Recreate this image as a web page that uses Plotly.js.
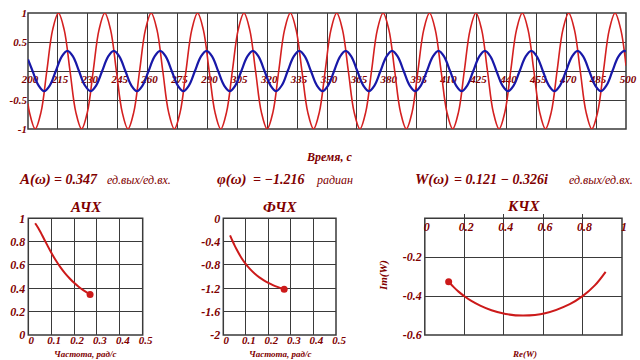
<!DOCTYPE html>
<html><head><meta charset="utf-8">
<script src="https://cdn.plot.ly/plotly-3.0.1.min.js"></script>
<style>html,body{margin:0;padding:0;background:#fff}</style>
</head><body><div id="c" style="width:640px;height:360px"></div>
<script>
// ---- Time response: input (red) and output (blue) ----
const redT = [200,200.71,203.62,206.53,209.44,212.35,215.26,218.17,221.08,223.98,226.89,229.80,
232.71,235.62,238.53,241.44,244.35,247.26,250.16,253.07,255.98,258.89,261.80,264.71,267.62,270.53,
273.43,276.34,279.25,282.16,285.07,287.98,290.89,293.80,296.71,299.61,302.52,305.43,308.34,311.25,
314.16,317.07,319.98,322.89,325.79,328.70,331.61,334.52,337.43,340.34,343.25,346.16,349.07,351.97,
354.88,357.79,360.70,363.61,366.52,369.43,372.34,375.25,378.15,381.06,383.97,386.88,389.79,392.70,
395.61,398.52,401.43,404.33,407.24,410.15,413.06,415.97,418.88,421.79,424.70,427.61,430.51,433.42,
436.33,439.24,442.15,445.06,447.97,450.88,453.78,456.69,459.60,462.51,465.42,468.33,471.24,474.15,
477.06,479.97,482.87,485.78,488.69,491.60,494.51,497.42,500];
const redY = [-0.56,-0.71,-1,-0.71,
0,0.71,1,0.71,0,-0.71,-1,-0.71,
0,0.71,1,0.71,0,-0.71,-1,-0.71,
0,0.71,1,0.71,0,-0.71,-1,-0.71,
0,0.71,1,0.71,0,-0.71,-1,-0.71,
0,0.71,1,0.71,0,-0.71,-1,-0.71,
0,0.71,1,0.71,0,-0.71,-1,-0.71,
0,0.71,1,0.71,0,-0.71,-1,-0.71,
0,0.71,1,0.71,0,-0.71,-1,-0.71,
0,0.71,1,0.71,0,-0.71,-1,-0.71,
0,0.71,1,0.71,0,-0.71,-1,-0.71,
0,0.71,1,0.71,0,-0.71,-1,-0.71,
0,0.71,1,0.71,0,-0.71,-1,-0.71,
0,0.71,1,0.71,0.09];
const blueT = [200,202.30,205.21,208.12,211.03,213.94,216.85,219.76,222.67,225.58,228.48,231.39,
234.30,237.21,240.12,243.03,245.94,248.85,251.76,254.66,257.57,260.48,263.39,266.30,269.21,272.12,
275.03,277.93,280.84,283.75,286.66,289.57,292.48,295.39,298.30,301.21,304.11,307.02,309.93,312.84,
315.75,318.66,321.57,324.48,327.39,330.29,333.20,336.11,339.02,341.93,344.84,347.75,350.66,353.57,
356.47,359.38,362.29,365.20,368.11,371.02,373.93,376.84,379.75,382.65,385.56,388.47,391.38,394.29,
397.20,400.11,403.02,405.93,408.83,411.74,414.65,417.56,420.47,423.38,426.29,429.20,432.11,435.01,
437.92,440.83,443.74,446.65,449.56,452.47,455.38,458.28,461.19,464.10,467.01,469.92,472.83,475.74,
478.65,481.56,484.47,487.37,490.28,493.19,496.10,499.01,500];
const blueY = [0.20,0,-0.245,-0.347,-0.245,
0,0.245,0.347,0.245,0,-0.245,-0.347,-0.245,
0,0.245,0.347,0.245,0,-0.245,-0.347,-0.245,
0,0.245,0.347,0.245,0,-0.245,-0.347,-0.245,
0,0.245,0.347,0.245,0,-0.245,-0.347,-0.245,
0,0.245,0.347,0.245,0,-0.245,-0.347,-0.245,
0,0.245,0.347,0.245,0,-0.245,-0.347,-0.245,
0,0.245,0.347,0.245,0,-0.245,-0.347,-0.245,
0,0.245,0.347,0.245,0,-0.245,-0.347,-0.245,
0,0.245,0.347,0.245,0,-0.245,-0.347,-0.245,
0,0.245,0.347,0.245,0,-0.245,-0.347,-0.245,
0,0.245,0.347,0.245,0,-0.245,-0.347,-0.245,
0,0.245,0.347,0.245,0,-0.245,-0.347,-0.245,
0,0.245,0.347,0.335];
const timeTicks = [200,215,230,245,260,275,290,305,320,335,350,365,380,395,410,425,440,455,470,485,500];
const timeTickText = ['200','215','230','245','260','275','290','305','320','335','350','365','380','395','410','425','440','455','470','485','500'];
const ampTicks = [-1,-0.5,0,0.5,1];
const ampTickText = ['-1','-0.5','','0.5','1'];

// ---- Frequency characteristics ----
const omega  = [0.03,0.04,0.05,0.06,0.08,0.10,0.12,0.14,0.16,0.18,0.20,0.22,0.24,0.27];
const ampA   = [0.958,0.928,0.894,0.857,0.781,0.707,0.640,0.581,0.530,0.486,0.447,0.414,0.385,0.347];
const phaseF = [-0.291,-0.381,-0.464,-0.540,-0.675,-0.785,-0.876,-0.951,-1.012,-1.064,-1.107,-1.144,-1.176,-1.216];
const reW    = [0.917,0.862,0.800,0.735,0.610,0.500,0.410,0.338,0.281,0.236,0.200,0.171,0.148,0.121];
const imW    = [-0.275,-0.345,-0.400,-0.441,-0.488,-0.500,-0.492,-0.473,-0.449,-0.425,-0.400,-0.377,-0.355,-0.326];
const omegaNow = [0.27], ampNow = [0.347], phaseNow = [-1.216], reNow = [0.121], imNow = [-0.326];

const freqTicks = [0,0.1,0.2,0.3,0.4,0.5];
const freqTickText = ['0','0.1','0.2','0.3','0.4','0.5'];
const aTicks = [0,0.2,0.4,0.6,0.8,1];
const aTickText = ['0','0.2','0.4','0.6','0.8','1'];
const fTicks = [-2,-1.6,-1.2,-0.8,-0.4,0];
const fTickText = ['-2','-1.6','-1.2','-0.8','-0.4','0'];
const reTicks = [0,0.2,0.4,0.6,0.8,1];
const reTickText = ['0','0.2','0.4','0.6','0.8','1'];
const imTicks = [-0.6,-0.4,-0.2,0];
const imTickText = ['-0.6','-0.4','-0.2',''];

// ---- styling ----
const W = 640, H = 360;
const px = v => v / W, py = v => 1 - v / H;
const TXT = '#800000', GRID = '#3a3a3a', FAM = 'Liberation Serif, Times New Roman, serif';
const tf = (s) => ({family: FAM, size: s, color: TXT, weight: 'bold', style: 'italic'});
const itf = (s) => ({family: FAM, size: s, color: TXT, style: 'italic'});
const CURVE = '#cc1a1a';

const traces = [
  {x: redT, y: redY, xaxis: 'x', yaxis: 'y', mode: 'lines', line: {color: '#d42020', width: 1.6, shape: 'spline', smoothing: 1}},
  {x: blueT, y: blueY, xaxis: 'x', yaxis: 'y', mode: 'lines', line: {color: '#1818a8', width: 2.2, shape: 'spline', smoothing: 1}},
  {x: omega, y: ampA, xaxis: 'x2', yaxis: 'y2', mode: 'lines', line: {color: CURVE, width: 2, shape: 'spline'}},
  {x: omegaNow, y: ampNow, xaxis: 'x2', yaxis: 'y2', mode: 'markers', marker: {color: CURVE, size: 7}},
  {x: omega, y: phaseF, xaxis: 'x3', yaxis: 'y3', mode: 'lines', line: {color: CURVE, width: 2, shape: 'spline'}},
  {x: omegaNow, y: phaseNow, xaxis: 'x3', yaxis: 'y3', mode: 'markers', marker: {color: CURVE, size: 7}},
  {x: reW, y: imW, xaxis: 'x4', yaxis: 'y4', mode: 'lines', line: {color: CURVE, width: 2, shape: 'spline'}},
  {x: reNow, y: imNow, xaxis: 'x4', yaxis: 'y4', mode: 'markers', marker: {color: CURVE, size: 7}}
];

const gridAx = {showgrid: true, gridcolor: GRID, gridwidth: 1, zeroline: false, showline: false, ticks: '', fixedrange: true};
const topDom = [py(129), py(13)];
const botDom = [py(335), py(218.3)];

const layout = {
  width: W, height: H, margin: {l: 0, r: 0, t: 0, b: 0},
  paper_bgcolor: '#fff', plot_bgcolor: '#fff', showlegend: false,
  xaxis: Object.assign({}, gridAx, {domain: [px(28), px(626)], range: [200, 500], anchor: 'free', position: (topDom[0] + topDom[1]) / 2,
    tickmode: 'array', tickvals: timeTicks, ticktext: timeTickText, tickfont: tf(11), layer: 'below traces', ticklabelstandoff: 0, ticklabelshift: 2}),
  yaxis: Object.assign({}, gridAx, {domain: topDom, range: [-1, 1], anchor: 'x', tickmode: 'array', tickvals: ampTicks, ticktext: ampTickText, tickfont: tf(11)}),
  xaxis2: Object.assign({}, gridAx, {domain: [px(28.3), px(142.7)], range: [0, 0.5], anchor: 'free', position: py(332), tickmode: 'array', tickvals: freqTicks, ticktext: freqTickText, tickfont: tf(11), ticklabelstandoff: 0, ticklabelshift: 3}),
  yaxis2: Object.assign({}, gridAx, {domain: botDom, range: [0, 1], anchor: 'x2', tickmode: 'array', tickvals: aTicks, ticktext: aTickText, tickfont: tf(12), ticklabelstandoff: 2}),
  xaxis3: Object.assign({}, gridAx, {domain: [px(223.3), px(336)], range: [0, 0.5], anchor: 'free', position: py(332), tickmode: 'array', tickvals: freqTicks, ticktext: freqTickText, tickfont: tf(11), ticklabelstandoff: 0, ticklabelshift: 3}),
  yaxis3: Object.assign({}, gridAx, {domain: botDom, range: [-2, 0], anchor: 'x3', tickmode: 'array', tickvals: fTicks, ticktext: fTickText, tickfont: tf(12), ticklabelstandoff: 2}),
  xaxis4: Object.assign({}, gridAx, {domain: [px(424.8), px(622)], range: [0, 1], anchor: 'free', position: botDom[1], side: 'bottom', tickmode: 'array', tickvals: reTicks, ticktext: reTickText, tickfont: tf(12), ticks: 'inside', ticklen: 4, tickcolor: GRID, layer: 'below traces', ticklabelshift: 2}),
  yaxis4: Object.assign({}, gridAx, {domain: botDom, range: [-0.6, 0], anchor: 'x4', tickmode: 'array', tickvals: imTicks, ticktext: imTickText, tickfont: tf(12), ticklabelstandoff: 2}),
  shapes: [
    ['x', 'y'], ['x2', 'y2'], ['x3', 'y3'], ['x4', 'y4']
  ].map(([a, b]) => ({type: 'rect', xref: a + ' domain', yref: b + ' domain', x0: 0, x1: 1, y0: 0, y1: 1, line: {color: GRID, width: 1.5}, layer: 'below'})),
  annotations: [
    {text: 'Время, с', x: px(329), y: py(157), font: tf(12)},
    {text: 'A(ω)', x: px(18), y: py(179), xanchor: 'left', font: tf(15)},
    {text: '= 0.347', x: px(53), y: py(179), xanchor: 'left', font: tf(14)},
    {text: 'ед.вых/ед.вх.', x: px(106), y: py(180), xanchor: 'left', font: itf(12)},
    {text: 'φ(ω)', x: px(216), y: py(179), xanchor: 'left', font: tf(15)},
    {text: '= −1.216', x: px(252), y: py(179), xanchor: 'left', font: tf(14)},
    {text: 'радиан', x: px(315), y: py(180), xanchor: 'left', font: itf(12)},
    {text: 'W(ω)', x: px(414), y: py(179), xanchor: 'left', font: tf(15)},
    {text: '= 0.121 − 0.326i', x: px(453), y: py(179), xanchor: 'left', font: tf(14)},
    {text: 'ед.вых/ед.вх.', x: px(568), y: py(180), xanchor: 'left', font: itf(12)},
    {text: 'АЧХ', x: px(85.5), y: py(206.5), font: tf(15)},
    {text: 'ФЧХ', x: px(279.7), y: py(206.5), font: tf(15)},
    {text: 'КЧХ', x: px(523.4), y: py(206), font: tf(15)},
    {text: 'Частота, рад/с', x: px(85), y: py(360), yanchor: 'bottom', font: tf(9)},
    {text: 'Частота, рад/с', x: px(280), y: py(360), yanchor: 'bottom', font: tf(9)},
    {text: 'Re(W)', x: px(524), y: py(360), yanchor: 'bottom', font: tf(9)},
    {text: 'Im(W)', x: px(383), y: py(276), textangle: -90, font: tf(11)}
  ].map(a => Object.assign({xref: 'paper', yref: 'paper', showarrow: false, xanchor: 'center', yanchor: 'middle', borderpad: 0}, a))
};

Plotly.newPlot('c', traces, layout, {displayModeBar: false, staticPlot: true});
</script></body></html>
